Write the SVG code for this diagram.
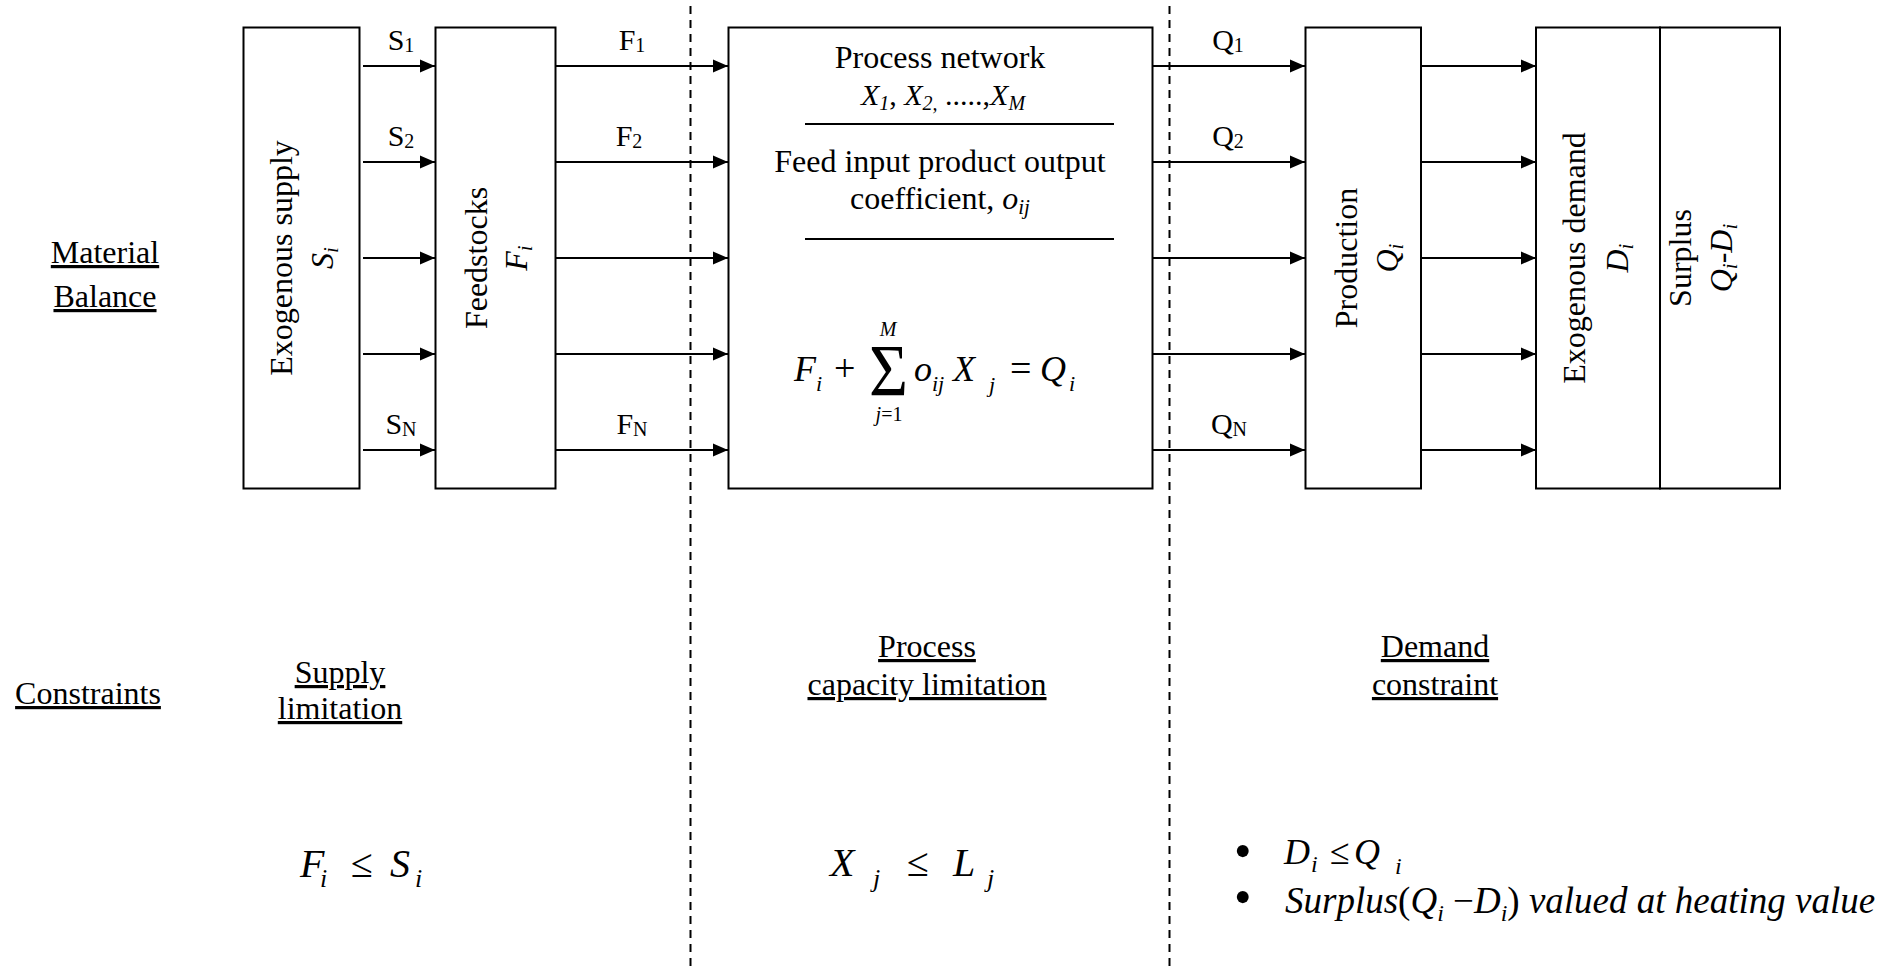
<svg xmlns="http://www.w3.org/2000/svg" width="1895" height="967" viewBox="0 0 1895 967">
<defs>
<style>
.t{font-family:"Liberation Serif","Times New Roman",serif;fill:#000;}
.i{font-style:italic;}
.n{font-style:normal;}
.box{fill:#fff;stroke:#000;stroke-width:2;}
.arr{stroke:#000;stroke-width:2;fill:none;marker-end:url(#ah);}
.dash{stroke:#000;stroke-width:2;stroke-dasharray:8 6;stroke-dashoffset:8;}
.rule{stroke:#000;stroke-width:2;}
.u{text-decoration:underline;}
</style>
<marker id="ah" markerUnits="userSpaceOnUse" markerWidth="16" markerHeight="14" refX="15" refY="7" orient="auto">
<path d="M0,0.5 L15,7 L0,13.5 z" fill="#000"/>
</marker>
</defs>
<rect width="1895" height="967" fill="#fff"/>

<g id="dividers">
<line class="dash" x1="690.5" y1="0" x2="690.5" y2="967"/>
<line class="dash" x1="1169.5" y1="0" x2="1169.5" y2="967"/>
</g>

<g id="row-labels" class="t" font-size="32">
<text class="u" x="105" y="263" text-anchor="middle">Material</text>
<text class="u" x="105" y="307" text-anchor="middle">Balance</text>
<text class="u" x="88" y="704" text-anchor="middle">Constraints</text>
</g>

<g id="node-supply">
<rect class="box" x="243.5" y="27.5" width="116" height="461"/>
<text class="t" font-size="32" transform="translate(292,258) rotate(-90)" text-anchor="middle">Exogenous supply</text>
<text class="t" font-size="32" transform="translate(333,258) rotate(-90)" text-anchor="middle"><tspan class="i">S</tspan><tspan class="i" font-size="21" dy="5">i</tspan></text>
</g>

<g id="node-feedstocks">
<rect class="box" x="435.5" y="27.5" width="120" height="461"/>
<text class="t" font-size="32" transform="translate(487,258) rotate(-90)" text-anchor="middle">Feedstocks</text>
<text class="t" font-size="32" transform="translate(527,258) rotate(-90)" text-anchor="middle"><tspan class="i">F</tspan><tspan class="i" font-size="21" dy="5">i</tspan></text>
</g>

<g id="node-process">
<rect class="box" x="728.5" y="27.5" width="424" height="461"/>
<text class="t" font-size="32" x="940" y="68" text-anchor="middle">Process network</text>
<text class="t" font-size="30" x="943" y="105" text-anchor="middle"><tspan class="i">X</tspan><tspan class="i" font-size="20" dy="5">1</tspan><tspan dy="-5">, </tspan><tspan class="i">X</tspan><tspan class="i" font-size="20" dy="5">2,</tspan><tspan dy="-5"> .....,</tspan><tspan class="i">X</tspan><tspan class="i" font-size="20" dy="5">M</tspan></text>
<line class="rule" x1="805" y1="124" x2="1114" y2="124"/>
<text class="t" font-size="32" x="940" y="172" text-anchor="middle">Feed input product output</text>
<text class="t" font-size="32" x="940" y="209" text-anchor="middle">coefficient, <tspan class="i">o</tspan><tspan class="i" font-size="21" dy="5">ij</tspan></text>
<line class="rule" x1="805" y1="239" x2="1114" y2="239"/>
<g class="t">
<text class="i" font-size="36" x="794" y="381">F</text>
<text class="i" font-size="22" x="816" y="391">i</text>
<text font-size="38" x="834" y="381">+</text>
<text font-size="62" transform="translate(869,396) scale(1.08,1.2)">Σ</text>
<text class="i" font-size="20" x="888" y="336" text-anchor="middle">M</text>
<text font-size="20" x="889" y="421" text-anchor="middle"><tspan class="i">j</tspan>=1</text>
<text class="i" font-size="36" x="914" y="381">o</text>
<text class="i" font-size="22" x="932" y="391">ij</text>
<text class="i" font-size="36" x="953" y="381">X</text>
<text class="i" font-size="22" x="989" y="392">j</text>
<text font-size="38" x="1010" y="381">=</text>
<text class="i" font-size="36" x="1040" y="381">Q</text>
<text class="i" font-size="22" x="1069" y="391">i</text>
</g>
</g>

<g id="node-production">
<rect class="box" x="1305.5" y="27.5" width="115.5" height="461"/>
<text class="t" font-size="32" transform="translate(1357,258) rotate(-90)" text-anchor="middle">Production</text>
<text class="t" font-size="32" transform="translate(1398,258) rotate(-90)" text-anchor="middle"><tspan class="i">Q</tspan><tspan class="i" font-size="21" dy="5">i</tspan></text>
</g>

<g id="node-demand">
<rect class="box" x="1536" y="27.5" width="124" height="461"/>
<text class="t" font-size="32" transform="translate(1585,258) rotate(-90)" text-anchor="middle">Exogenous demand</text>
<text class="t" font-size="32" transform="translate(1628,258) rotate(-90)" text-anchor="middle"><tspan class="i">D</tspan><tspan class="i" font-size="21" dy="5">i</tspan></text>
</g>

<g id="node-surplus">
<rect class="box" x="1660" y="27.5" width="120" height="461"/>
<text class="t" font-size="32" transform="translate(1691,258) rotate(-90)" text-anchor="middle">Surplus</text>
<text class="t" font-size="32" transform="translate(1732,258) rotate(-90)" text-anchor="middle"><tspan class="i">Q</tspan><tspan class="i" font-size="21" dy="5">i</tspan><tspan dy="-5">-</tspan><tspan class="i">D</tspan><tspan class="i" font-size="21" dy="5">i</tspan></text>
</g>

<g id="connectors">
<line class="arr" x1="363" y1="66" x2="435" y2="66"/>
<line class="arr" x1="363" y1="162" x2="435" y2="162"/>
<line class="arr" x1="363" y1="258" x2="435" y2="258"/>
<line class="arr" x1="363" y1="354" x2="435" y2="354"/>
<line class="arr" x1="363" y1="450" x2="435" y2="450"/>
<line class="arr" x1="556" y1="66" x2="728" y2="66"/>
<line class="arr" x1="556" y1="162" x2="728" y2="162"/>
<line class="arr" x1="556" y1="258" x2="728" y2="258"/>
<line class="arr" x1="556" y1="354" x2="728" y2="354"/>
<line class="arr" x1="556" y1="450" x2="728" y2="450"/>
<line class="arr" x1="1153" y1="66" x2="1305" y2="66"/>
<line class="arr" x1="1153" y1="162" x2="1305" y2="162"/>
<line class="arr" x1="1153" y1="258" x2="1305" y2="258"/>
<line class="arr" x1="1153" y1="354" x2="1305" y2="354"/>
<line class="arr" x1="1153" y1="450" x2="1305" y2="450"/>
<line class="arr" x1="1421" y1="66" x2="1536" y2="66"/>
<line class="arr" x1="1421" y1="162" x2="1536" y2="162"/>
<line class="arr" x1="1421" y1="258" x2="1536" y2="258"/>
<line class="arr" x1="1421" y1="354" x2="1536" y2="354"/>
<line class="arr" x1="1421" y1="450" x2="1536" y2="450"/>
<g class="t" font-size="30" text-anchor="middle">
<text x="401" y="50">S<tspan font-size="20" dy="2">1</tspan></text>
<text x="401" y="146">S<tspan font-size="20" dy="2">2</tspan></text>
<text x="401" y="434">S<tspan font-size="20" dy="2">N</tspan></text>
<text x="632" y="50">F<tspan font-size="20" dy="2">1</tspan></text>
<text x="629" y="146">F<tspan font-size="20" dy="2">2</tspan></text>
<text x="632" y="434">F<tspan font-size="20" dy="2">N</tspan></text>
<text x="1228" y="50">Q<tspan font-size="20" dy="2">1</tspan></text>
<text x="1228" y="146">Q<tspan font-size="20" dy="2">2</tspan></text>
<text x="1229" y="434">Q<tspan font-size="20" dy="2">N</tspan></text>
</g>
</g>

<g id="constraint-supply" class="t" font-size="32">
<text class="u" x="340" y="683" text-anchor="middle">Supply</text>
<text class="u" x="340" y="719" text-anchor="middle">limitation</text>
<text class="i" font-size="40" x="300" y="877">F</text>
<text class="i" font-size="26" x="320" y="887">i</text>
<text font-size="40" x="351" y="877">≤</text>
<text class="i" font-size="40" x="390" y="877">S</text>
<text class="i" font-size="26" x="415" y="887">i</text>
</g>

<g id="constraint-process" class="t" font-size="32">
<text class="u" x="927" y="657" text-anchor="middle">Process</text>
<text class="u" x="927" y="695" text-anchor="middle">capacity limitation</text>
<text class="i" font-size="40" x="830" y="876">X</text>
<text class="i" font-size="26" x="873" y="887">j</text>
<text font-size="40" x="907" y="876">≤</text>
<text class="i" font-size="40" x="953" y="876">L</text>
<text class="i" font-size="26" x="987" y="887">j</text>
</g>

<g id="constraint-demand" class="t" font-size="32">
<text class="u" x="1435" y="657" text-anchor="middle">Demand</text>
<text class="u" x="1435" y="695" text-anchor="middle">constraint</text>
<text font-size="50" x="1234" y="868">•</text>
<text class="i" font-size="36" x="1284" y="864">D</text>
<text class="i" font-size="24" x="1311" y="872">i</text>
<text font-size="36" x="1330" y="864">≤</text>
<text class="i" font-size="36" x="1354" y="864">Q</text>
<text class="i" font-size="24" x="1395" y="874">i</text>
<text font-size="50" x="1234" y="914">•</text>
<text class="i" font-size="37" x="1285" y="913">Surplus<tspan class="n">(</tspan>Q<tspan font-size="24" dy="8">i</tspan><tspan class="n" dy="-8"> −</tspan>D<tspan font-size="24" dy="8">i</tspan><tspan class="n" dy="-8">)</tspan> valued at heating value</text>
</g>
</svg>
